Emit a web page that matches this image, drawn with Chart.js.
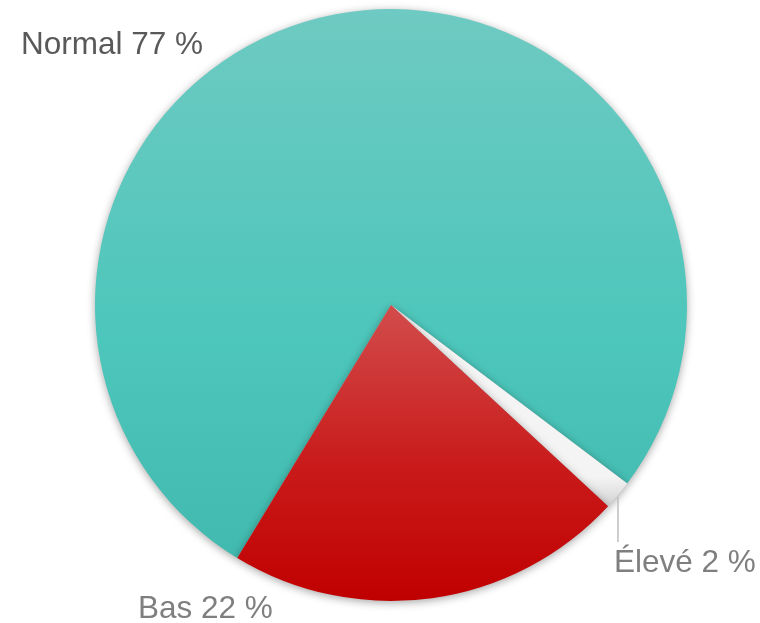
<!DOCTYPE html>
<html>
<head>
<meta charset="utf-8">
<script src="https://cdn.jsdelivr.net/npm/chart.js@4.4.1/dist/chart.umd.min.js"></script>
<style>
  html, body { margin: 0; padding: 0; background: #fff; }
  #wrap { width: 760px; height: 623px; position: relative; }
</style>
</head>
<body>
<div id="wrap"><canvas id="pie" width="760" height="623"></canvas></div>
<script>
// Pie: share of readings per level
const categories = ['Normal', 'Élevé', 'Bas'];
const shares = [76.6, 1.6, 21.8];

// slice colours, top -> middle -> bottom of each gradient
const sliceColors = [
  ['#6ecac2', '#4dc6bb', '#3fb7ac'],
  ['#f4f4f4', '#e2e2e2', '#cfcfcf'],
  ['#d24c4c', '#c91a1a', '#c00000'],
];
const labelColors = ['#595959', '#7f7f7f', '#7f7f7f'];

function sliceGradient(context) {
  const chart = context.chart;
  const area = chart.chartArea;
  const i = context.dataIndex;
  if (!area) return sliceColors[i][0];
  const cy = (area.top + area.bottom) / 2;
  const r = Math.min(area.width, area.height) / 2;
  let y0 = area.top, y1 = area.bottom;
  if (i === 2) { y0 = cy; y1 = cy + r; }
  if (i === 1) { y0 = cy + r * 0.58; y1 = cy + r * 0.68; }
  const g = chart.ctx.createLinearGradient(0, y0, 0, y1);
  g.addColorStop(0, sliceColors[i][0]);
  g.addColorStop(0.55, sliceColors[i][1]);
  g.addColorStop(1, sliceColors[i][2]);
  return g;
}

// soft shadow under the pie
const shadowPlugin = {
  id: 'pieShadow',
  beforeDatasetDraw(chart) {
    const ctx = chart.ctx;
    ctx.save();
    ctx.shadowColor = 'rgba(0,0,0,0.35)';
    ctx.shadowBlur = 9;
    ctx.shadowOffsetY = 2;
  },
  afterDatasetDraw(chart) {
    chart.ctx.restore();
  }
};

// text labels outside the pie, leader line for the small slice
const labelPlugin = {
  id: 'outLabels',
  afterDatasetsDraw(chart) {
    const ctx = chart.ctx;
    const meta = chart.getDatasetMeta(0);
    const area = chart.chartArea;
    ctx.save();
    ctx.font = '31.5px "Liberation Sans", Arial, sans-serif';
    ctx.textBaseline = 'alphabetic';
    ctx.textAlign = 'left';
    categories.forEach((name, i) => {
      const txt = name + ' ' + Math.round(shares[i]) + ' %';
      ctx.fillStyle = labelColors[i];
      const arc = meta.data[i];
      if (i === 0) {
        ctx.fillText(txt, 21, area.top + 45);
      } else if (i === 2) {
        ctx.fillText(txt, 138, area.bottom + 17);
      } else {
        const mid = (arc.startAngle + arc.endAngle) / 2;
        const px = arc.x + Math.cos(mid) * arc.outerRadius;
        const py = arc.y + Math.sin(mid) * arc.outerRadius;
        ctx.strokeStyle = '#bfbfbf';
        ctx.lineWidth = 1.5;
        ctx.beginPath();
        ctx.moveTo(px, py + 2);
        ctx.lineTo(px, py + 47);
        ctx.stroke();
        ctx.fillText(txt, px - 4, py + 77);
      }
    });
    ctx.restore();
  }
};

new Chart(document.getElementById('pie'), {
  type: 'pie',
  data: {
    labels: categories,
    datasets: [{
      data: shares,
      backgroundColor: sliceGradient,
      borderWidth: 0,
      hoverOffset: 0,
    }],
  },
  options: {
    responsive: false,
    animation: false,
    rotation: 211.3,
    layout: { padding: { left: 95, right: 73, top: 9, bottom: 22 } },
    plugins: {
      legend: { display: false },
      tooltip: { enabled: false },
    },
  },
  plugins: [shadowPlugin, labelPlugin],
});
</script>
</body>
</html>
